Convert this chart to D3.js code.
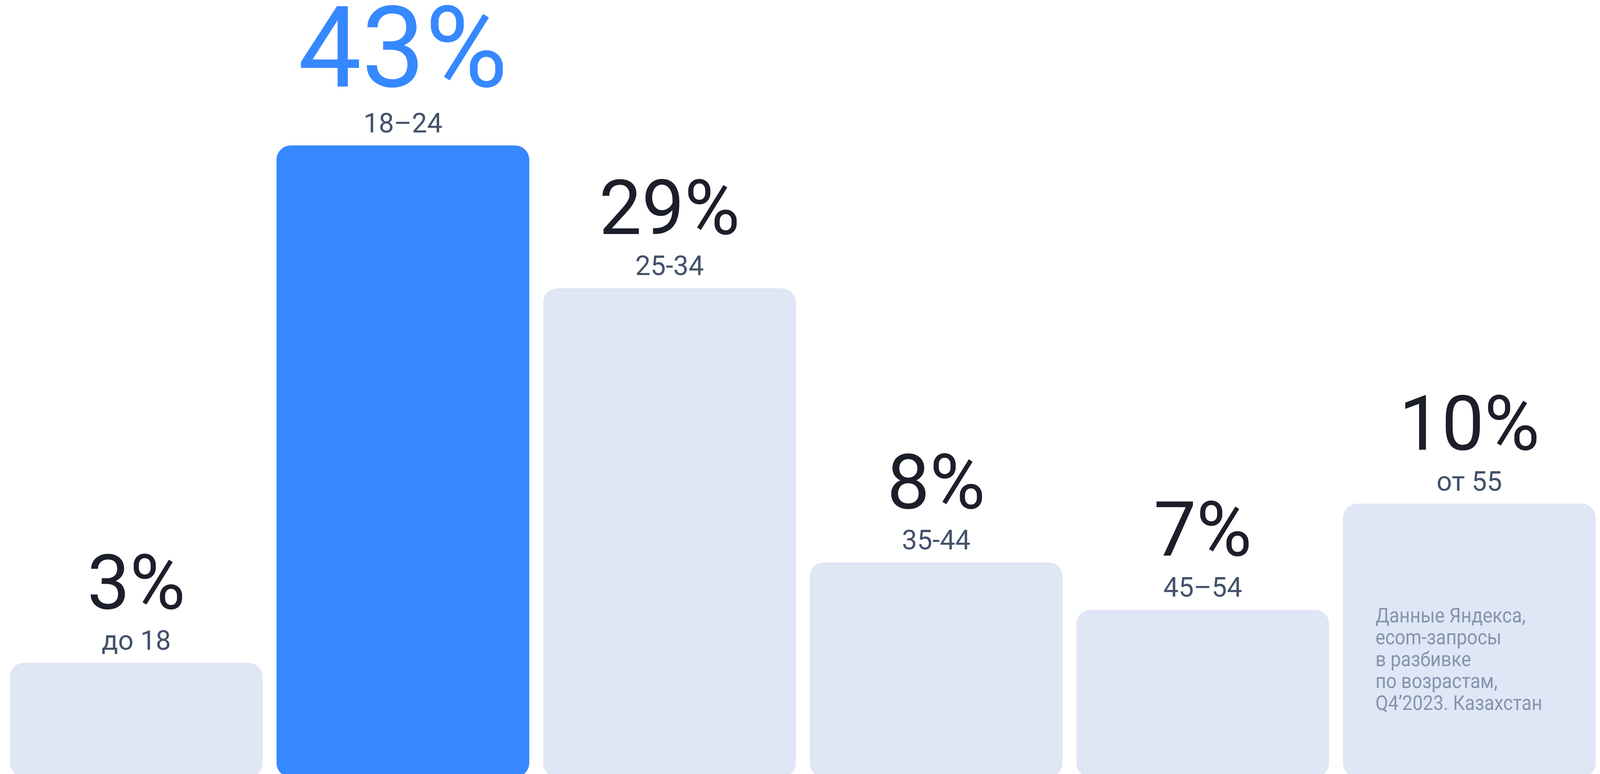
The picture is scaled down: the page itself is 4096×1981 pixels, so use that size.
<!DOCTYPE html>
<html>
<head>
<meta charset="utf-8">
<script src="https://cdn.jsdelivr.net/npm/d3@7"></script>
<style>
  html, body { margin: 0; padding: 0; background: #ffffff; overflow: hidden; }
  svg { display: block; }
</style>
</head>
<body>
<svg id="chart"></svg>
<script>
// ---- data ----
const categories = ["до 18", "18–24", "25-34", "35-44", "45–54", "от 55"];
const values = [3, 43, 29, 8, 7, 10];
// visual bar height as drawn (percent of the tallest bar)
const barLevels = [18.1, 100, 77.4, 34.0, 26.5, 43.3];
const highlighted = ["18–24"];
const footnoteLines = [
  "Данные Яндекса,",
  "ecom-запросы",
  "в разбивке",
  "по возрастам,",
  "Q4’2023. Казахстан"
];

// ---- layout (reference units, scaled to window by viewBox) ----
const W = 4532, H = 2192;
const svg = d3.select("#chart")
  .attr("width", 4096).attr("height", 1981)
  .attr("viewBox", `0 0 ${W} ${H}`);

const rows = categories.map((c, i) => ({ cat: c, value: values[i], level: barLevels[i], hi: highlighted.includes(c) }));

const x = d3.scaleBand().domain(categories).range([28, 4520]).paddingInner(0.052).paddingOuter(0);
const y = d3.scaleLinear().domain([0, 100]).range([2201, 412]);

const FONT = "Roboto, 'Noto Sans', 'DejaVu Sans', sans-serif";

const g = svg.append("g");

g.selectAll("rect.bar").data(rows).join("rect")
  .attr("class", "bar")
  .attr("x", d => x(d.cat))
  .attr("width", x.bandwidth())
  .attr("y", d => y(d.level))
  .attr("height", d => y(0) - y(d.level))
  .attr("rx", 40).attr("ry", 40)
  .attr("fill", d => d.hi ? "#3688ff" : "#dfe6f5");

// category labels
g.selectAll("text.cat").data(rows).join("text")
  .attr("class", "cat")
  .attr("x", d => x(d.cat) + x.bandwidth() / 2)
  .attr("y", d => y(d.level) - 37)
  .attr("text-anchor", "middle")
  .attr("font-family", FONT)
  .attr("font-size", 77)
  .attr("fill", "#43526a")
  .text(d => d.cat);

// value labels
g.selectAll("text.val").data(rows).join("text")
  .attr("class", "val")
  .attr("x", d => x(d.cat) + x.bandwidth() / 2)
  .attr("y", d => y(d.level) - 37 - (d.hi ? 130 : 116))
  .attr("text-anchor", "middle")
  .attr("font-family", FONT)
  .attr("font-size", d => d.hi ? 320 : 215)
  .attr("fill", d => d.hi ? "#3688ff" : "#1c1f2a")
  .text(d => d.value + "%");

// footnote inside the last bar
const last = categories[categories.length - 1];
const fx = x(last) + 92;
const fn = g.append("g").attr("transform", `translate(${fx},0) scale(0.9,1)`);
fn.selectAll("text").data(footnoteLines).join("text")
  .attr("x", 0)
  .attr("y", (d, i) => 1763 + i * 62)
  .attr("font-family", FONT)
  .attr("font-size", 58)
  .attr("fill", "#8494ae")
  .text(d => d);
</script>
</body>
</html>
